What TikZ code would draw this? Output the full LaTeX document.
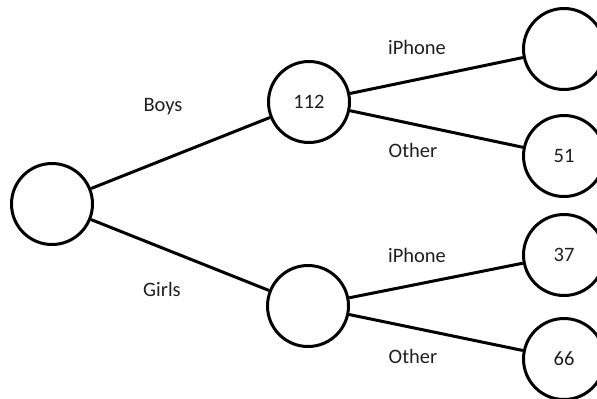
\documentclass[tikz,border=0pt]{standalone}
\usepackage{fontspec}
\setmainfont{Carlito}
\begin{document}
\begin{tikzpicture}[x=1bp,y=-1bp,
  every node/.style={font=\fontsize{20.5bp}{24bp}\selectfont, text=black!88},
  stage/.style={circle, draw=black, line width=3bp, minimum size=81bp, inner sep=0pt},
  branch/.style={draw=black, line width=3bp},
  lbl/.style={inner sep=0pt}]
\useasboundingbox (0,0) rectangle (597,398);
% tree nodes
\node[stage] (root)  at (52,204)  {};
\node[stage] (boys)  at (309,102) {112};
\node[stage] (girls) at (308,306) {};
\node[stage] (bi)    at (564,49)  {};
\node[stage] (bo)    at (564,156) {51};
\node[stage] (gi)    at (564,255) {37};
\node[stage] (go)    at (564,359) {66};
% branches
\path[branch] (root) -- (boys);
\path[branch] (root) -- (girls);
\path[branch] (boys) -- (bi);
\path[branch] (boys) -- (bo);
\path[branch] (girls) -- (gi);
\path[branch] (girls) -- (go);
% branch labels
\node[lbl] (lboys)  at (163,107) {Boys};
\node[lbl] (lgirls) at (162,289) {Girls};
\node[lbl] (lbi)    at (417,47)  {iPhone};
\node[lbl] (lbo)    at (413,150) {Other};
\node[lbl] (lgi)    at (417,255) {iPhone};
\node[lbl] (lgo)    at (413,356) {Other};
\end{tikzpicture}
\end{document}
